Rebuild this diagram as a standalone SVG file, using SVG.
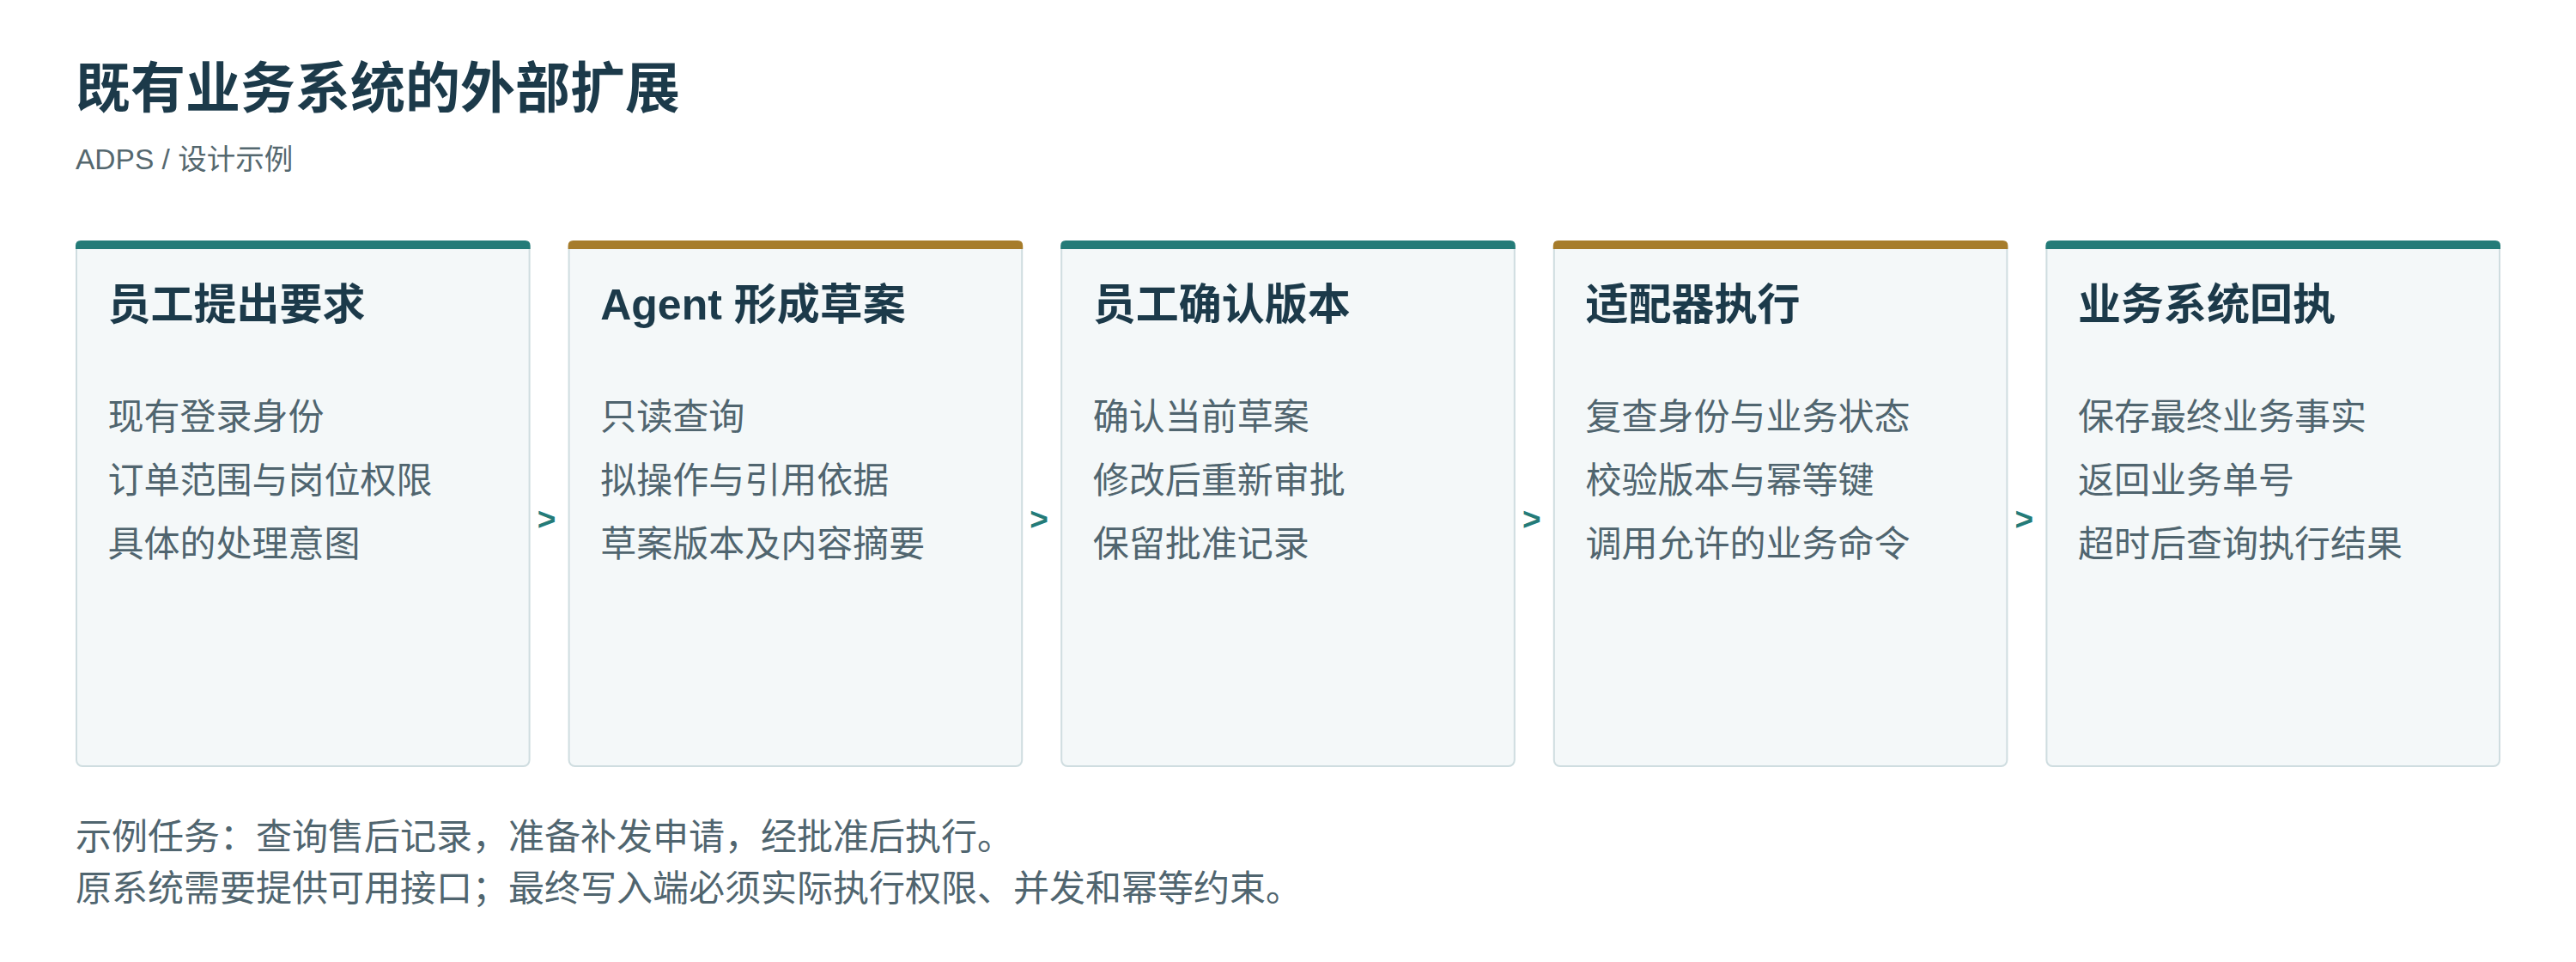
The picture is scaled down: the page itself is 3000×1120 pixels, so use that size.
<svg xmlns="http://www.w3.org/2000/svg" width="3000" height="1120" viewBox="0 0 3000 1120">
  <style>
    text { font-family: "Liberation Sans", "Noto Sans CJK SC", sans-serif; }
    .title { font-size: 64px; font-weight: bold; fill: #1c3a4a; }
    .sub { font-size: 33.5px; fill: #55686f; }
    .card { fill: #f4f8f9; stroke: #cfdde0; stroke-width: 2; }
    .teal { fill: #247b78; }
    .ochre { fill: #a67c2b; }
    .h { font-size: 50px; font-weight: bold; fill: #1c3a4a; }
    .b { font-size: 42px; fill: #50656f; }
    .arrow { font-size: 37px; font-weight: bold; fill: #247b78; text-anchor: middle; }
    .foot { font-size: 42px; fill: #50656f; }
  </style>
  <defs>
    <path id="bar" d="M0,290 V286 Q0,280 6,280 H523.6 Q529.6,280 529.6,286 V290 Z"/>
  </defs>
  <rect width="3000" height="1120" fill="#ffffff"/>

  <g id="header">
    <text class="title" x="88" y="125">既有业务系统的外部扩展</text>
    <text class="sub" x="88" y="197">ADPS / 设计示例</text>
  </g>

  <g id="node-1" transform="translate(88,0)">
    <rect class="card" x="1" y="281" width="527.6" height="611" rx="7"/>
    <use href="#bar" class="teal"/>
    <text class="h" x="37.6" y="372">员工提出要求</text>
    <text class="b" x="37.6" y="500">现有登录身份</text>
    <text class="b" x="37.6" y="574">订单范围与岗位权限</text>
    <text class="b" x="37.6" y="648">具体的处理意图</text>
  </g>

  <g id="node-2" transform="translate(661.6,0)">
    <rect class="card" x="1" y="281" width="527.6" height="611" rx="7"/>
    <use href="#bar" class="ochre"/>
    <text class="h" x="37.6" y="372">Agent 形成草案</text>
    <text class="b" x="37.6" y="500">只读查询</text>
    <text class="b" x="37.6" y="574">拟操作与引用依据</text>
    <text class="b" x="37.6" y="648">草案版本及内容摘要</text>
  </g>

  <g id="node-3" transform="translate(1235.2,0)">
    <rect class="card" x="1" y="281" width="527.6" height="611" rx="7"/>
    <use href="#bar" class="teal"/>
    <text class="h" x="37.6" y="372">员工确认版本</text>
    <text class="b" x="37.6" y="500">确认当前草案</text>
    <text class="b" x="37.6" y="574">修改后重新审批</text>
    <text class="b" x="37.6" y="648">保留批准记录</text>
  </g>

  <g id="node-4" transform="translate(1808.8,0)">
    <rect class="card" x="1" y="281" width="527.6" height="611" rx="7"/>
    <use href="#bar" class="ochre"/>
    <text class="h" x="37.6" y="372">适配器执行</text>
    <text class="b" x="37.6" y="500">复查身份与业务状态</text>
    <text class="b" x="37.6" y="574">校验版本与幂等键</text>
    <text class="b" x="37.6" y="648">调用允许的业务命令</text>
  </g>

  <g id="node-5" transform="translate(2382.4,0)">
    <rect class="card" x="1" y="281" width="527.6" height="611" rx="7"/>
    <use href="#bar" class="teal"/>
    <text class="h" x="37.6" y="372">业务系统回执</text>
    <text class="b" x="37.6" y="500">保存最终业务事实</text>
    <text class="b" x="37.6" y="574">返回业务单号</text>
    <text class="b" x="37.6" y="648">超时后查询执行结果</text>
  </g>

  <g id="connectors">
    <text class="arrow" x="636.5" y="617">&gt;</text>
    <text class="arrow" x="1210.1" y="617">&gt;</text>
    <text class="arrow" x="1783.7" y="617">&gt;</text>
    <text class="arrow" x="2357.3" y="617">&gt;</text>
  </g>

  <g id="footer">
    <text class="foot" x="88" y="989">示例任务：查询售后记录，准备补发申请，经批准后执行。</text>
    <text class="foot" x="88" y="1049">原系统需要提供可用接口；最终写入端必须实际执行权限、并发和幂等约束。</text>
  </g>
</svg>
